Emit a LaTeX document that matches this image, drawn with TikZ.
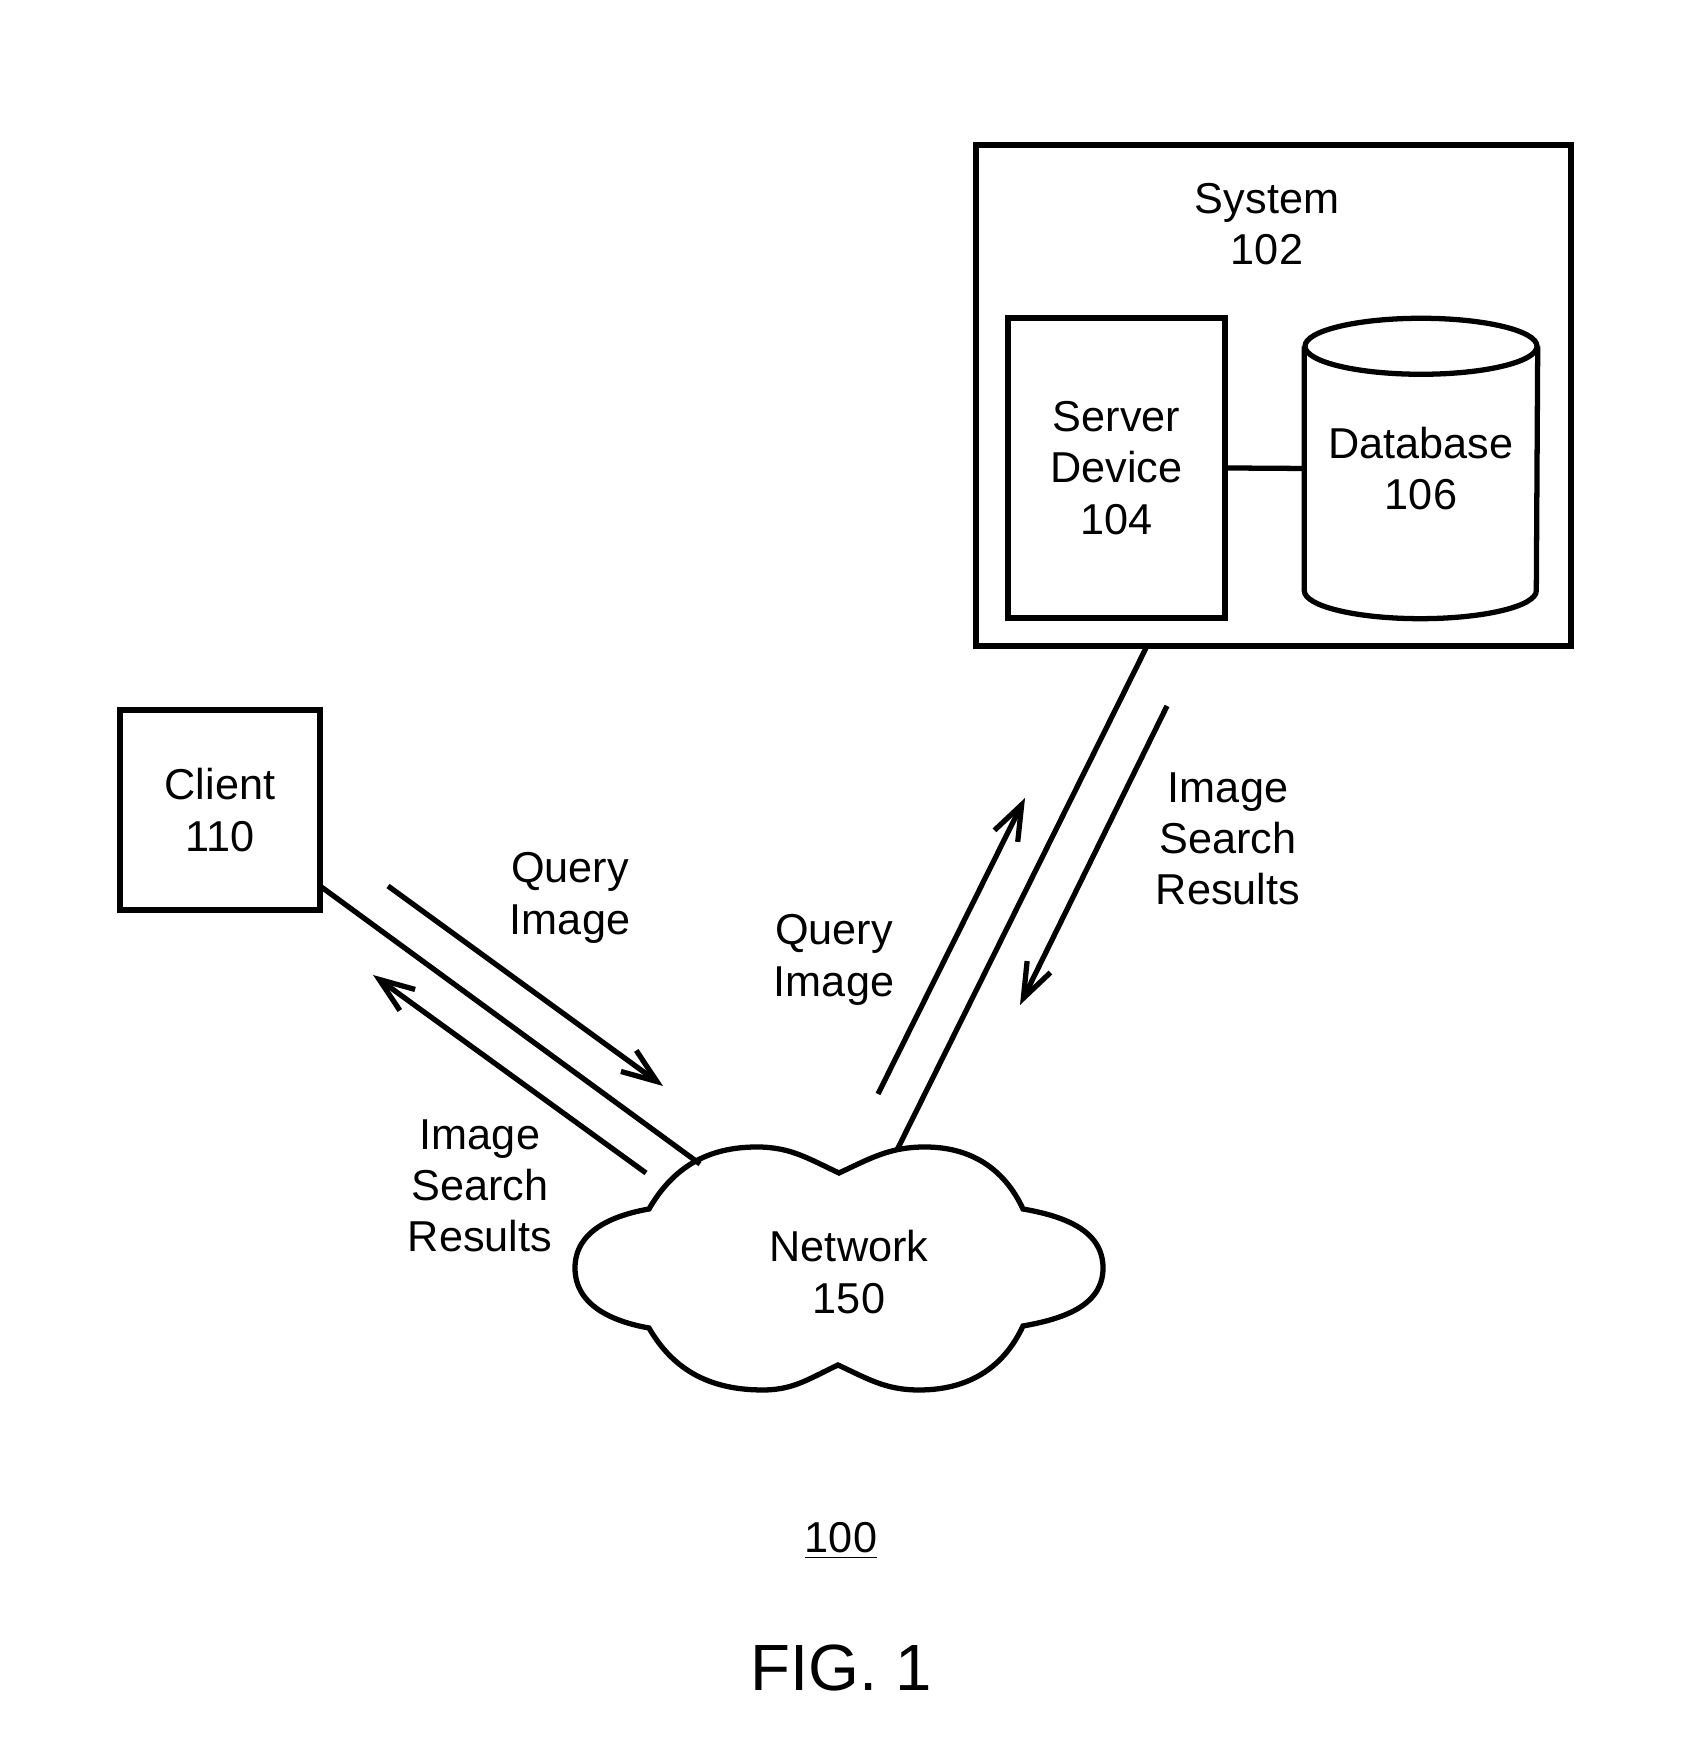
\documentclass[tikz,border=0pt]{standalone}
\usepackage{fontspec}
\setmainfont{Liberation Sans}
\usetikzlibrary{arrows.meta}

\begin{document}
\begin{tikzpicture}[
  every node/.style={font=\fontsize{12.3}{14.6}\selectfont, align=center},
  box/.style={draw, line width=1.5pt, inner sep=0pt},
  wire/.style={line width=1.5pt},
  flow/.style={line width=1.5pt, -{Straight Barb[length=3.5mm,width=2.6mm]}}
]
\useasboundingbox (0,0) rectangle (16.81,17.47);
% system 102 with server and database
\node[box, minimum width=5.95cm, minimum height=5.01cm] (sys) at (12.735,13.515) {};
\node (systxt) at (12.67,15.23) {System\\102};
\node[box, minimum width=2.17cm, minimum height=3.00cm] (srv) at (11.165,12.79) {Server\\Device\\104};
\node[inner sep=0pt, minimum width=2.32cm, minimum height=2.43cm] (db) at (14.21,12.785) {Database\\106};
\draw[wire] (db.north west) -- (db.south west) arc[start angle=180, end angle=360, x radius=1.16cm, y radius=0.28cm] -- (db.north east);
\draw[wire] (db.north) ellipse [x radius=1.16cm, y radius=0.28cm];
\draw[wire] (srv.east) -- (db.west);
% client
\node[box, minimum width=2.0cm, minimum height=2.0cm] (client) at (2.20,9.37) {Client\\110};
% network cloud
\draw[wire] (6.49,5.38) to[out=60,in=180] (7.57,6.00) to[out=0,in=155] (8.39,5.74)
  to[out=25,in=180] (9.25,6.00) to[out=0,in=115] (10.23,5.38)
  to[out=-10,in=90] (11.03,4.79) to[out=-90,in=10] (10.23,4.21)
  to[out=-115,in=0] (9.19,3.57) to[out=180,in=-25] (8.38,3.82)
  to[out=-155,in=0] (7.63,3.57) to[out=180,in=-60] (6.49,4.19)
  to[out=170,in=-90] (5.75,4.79) to[out=90,in=190] cycle;
\node (net) at (8.49,4.75) {Network\\150};
\coordinate (netA) at (7.00,5.83);
\coordinate (netB) at (8.97,5.97);
\coordinate (clientout) at (3.20,8.61);
\coordinate (sysout) at (11.47,11.01);
\draw[wire] (clientout) -- (netA);
\draw[wire] (sysout) -- (netB);
% flows
\coordinate (qa1) at (3.88,8.61);
\coordinate (qa2) at (6.63,6.61);
\coordinate (ra1) at (6.46,5.74);
\coordinate (ra2) at (3.73,7.72);
\coordinate (qb1) at (8.78,6.53);
\coordinate (qb2) at (10.25,9.49);
\coordinate (rb1) at (11.67,10.41);
\coordinate (rb2) at (10.20,7.42);
\draw[flow] (qa1) -- (qa2);
\draw[flow] (ra1) -- (ra2);
\draw[flow] (qb1) -- (qb2);
\draw[flow] (rb1) -- (rb2);
\node (q1) at (5.70,8.49) {Query\\Image};
\node (r1) at (4.80,5.61) {Image\\Search\\Results};
\node (q2) at (8.34,7.87) {Query\\Image};
\node (r2) at (12.28,9.08) {Image\\Search\\Results};
% figure labels
\node (ref) at (8.41,2.06) {\underline{100}};
\node[font=\fontsize{18.6}{22}\selectfont] (fig) at (8.41,0.79) {FIG. 1};
\end{tikzpicture}
\end{document}
